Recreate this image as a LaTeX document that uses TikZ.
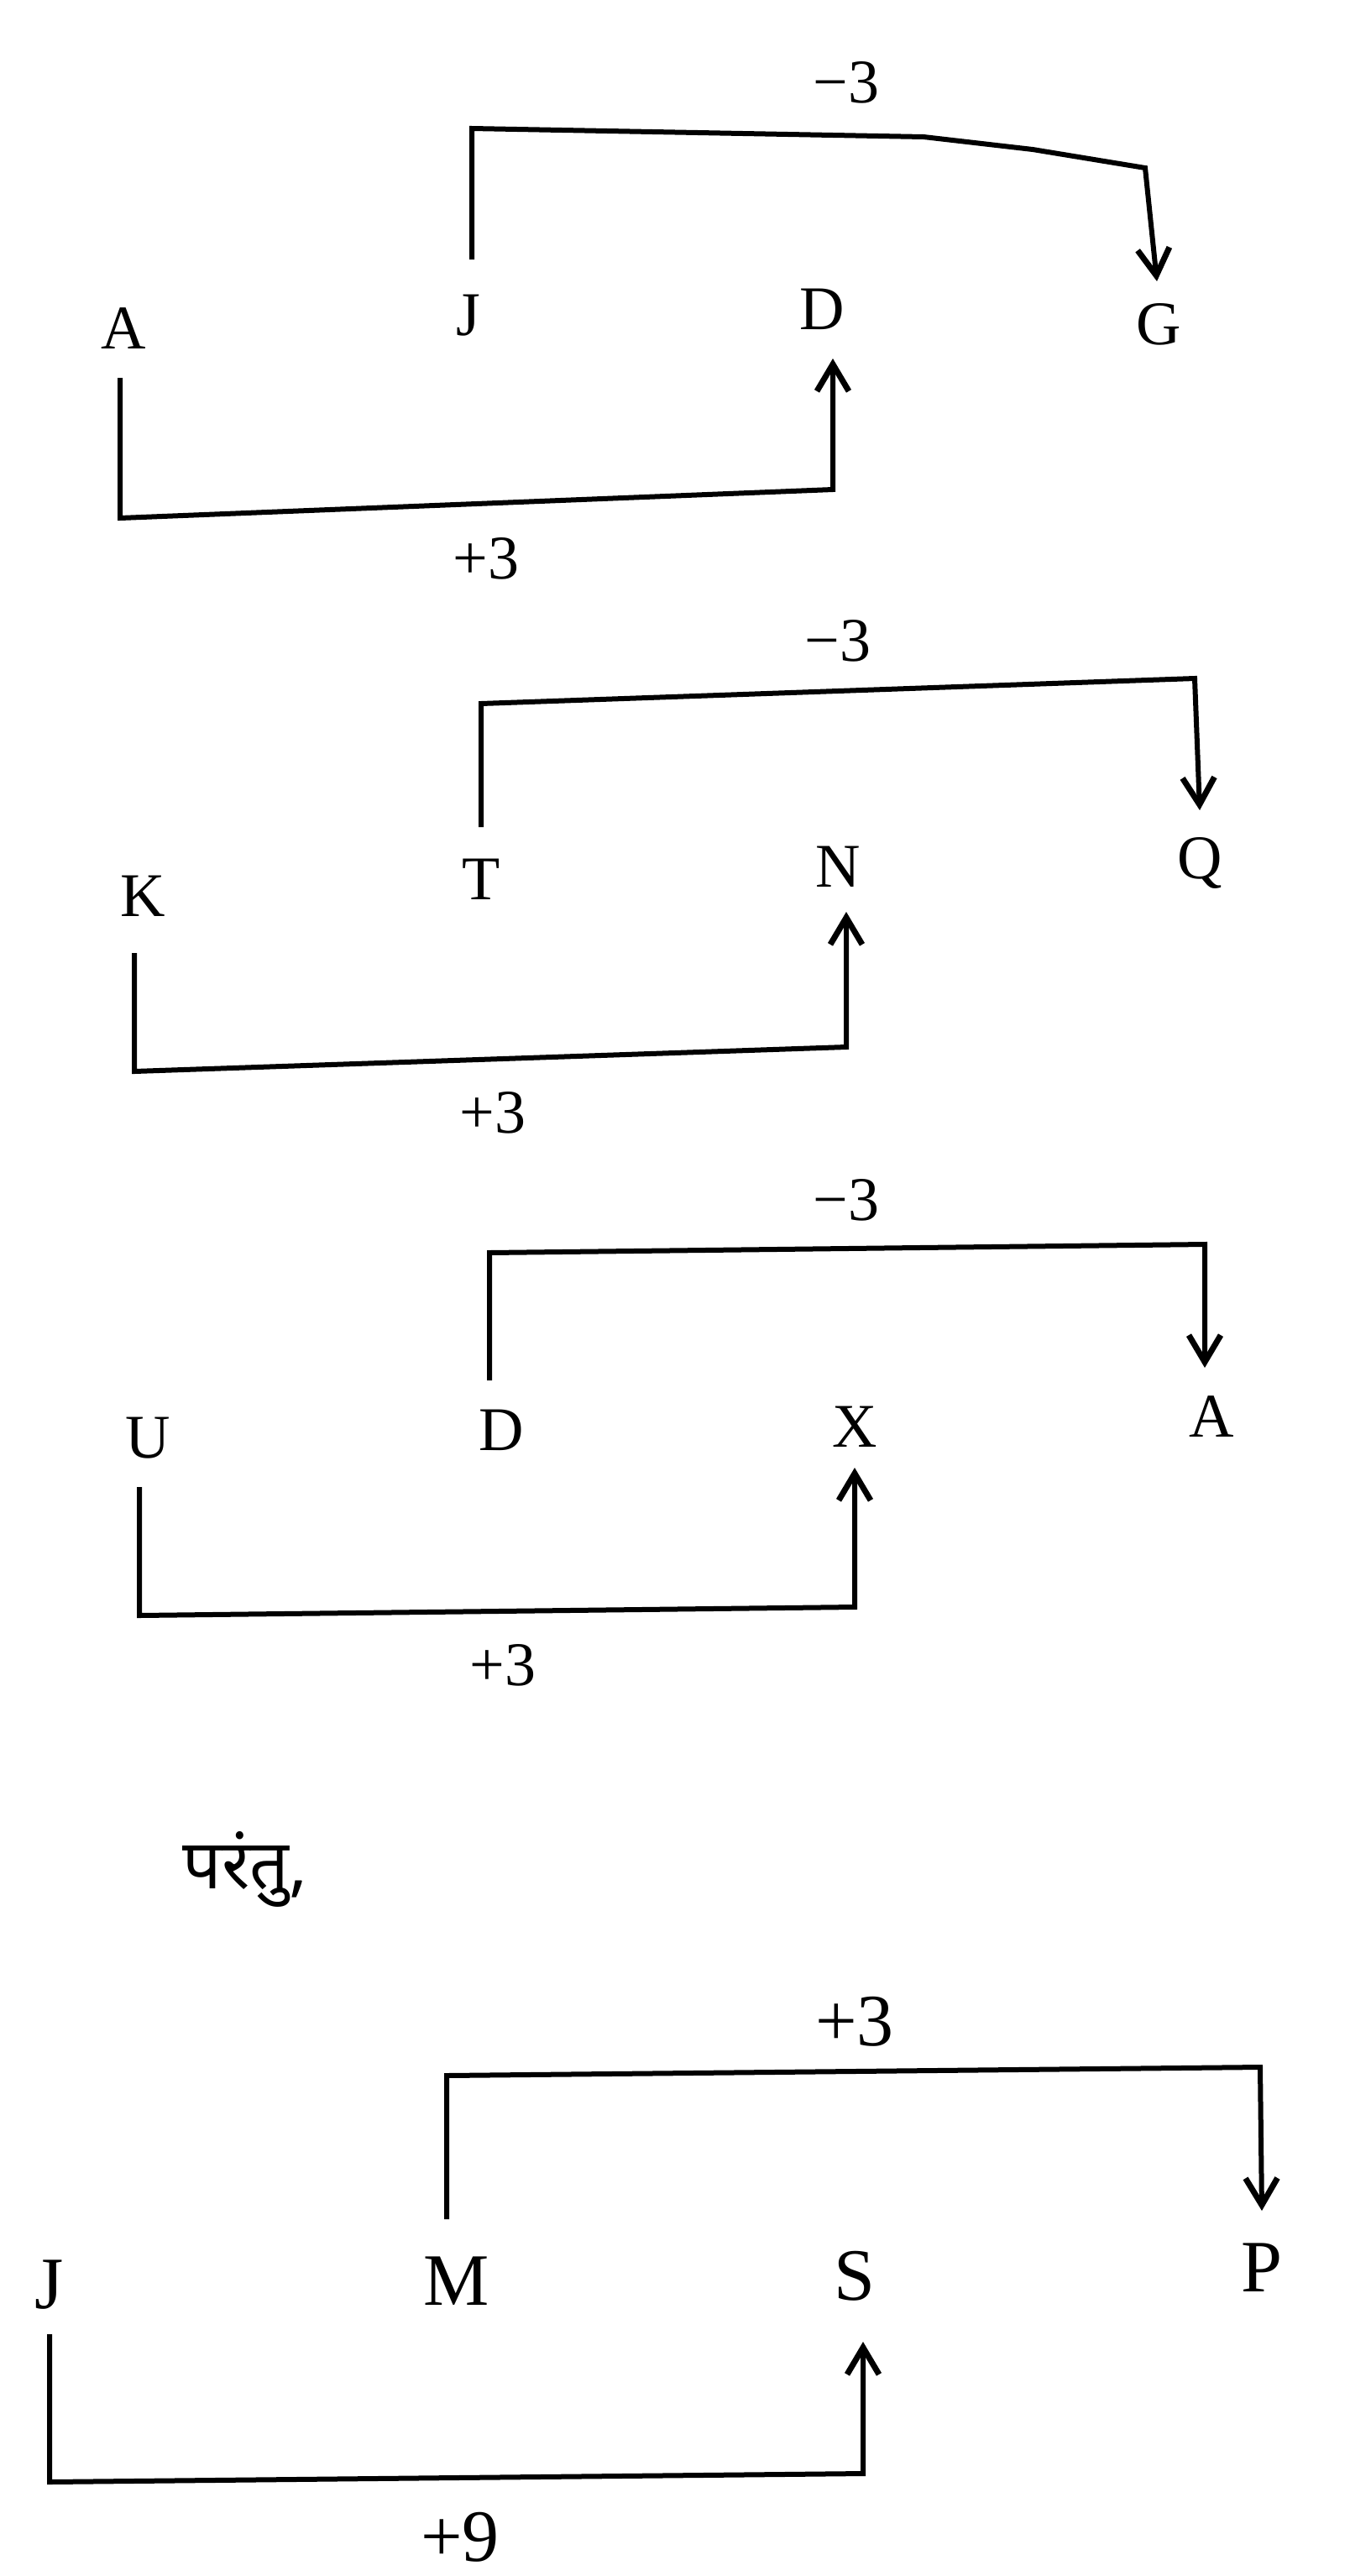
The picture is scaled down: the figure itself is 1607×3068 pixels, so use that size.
\documentclass[tikz,border=0pt]{standalone}
\usepackage{fontspec}
\setmainfont{Liberation Serif}
\newfontfamily\devfont[Script=Devanagari]{Noto Sans}
\usetikzlibrary{arrows.meta}
\tikzset{
  letter/.style={font=\fontsize{74}{80}\selectfont, inner sep=0pt},
  bigletter/.style={font=\fontsize{88}{94}\selectfont, inner sep=0pt},
  lab/.style={font=\fontsize{74}{80}\selectfont, inner sep=0pt},
  conn/.style={line width=6pt, line join=miter},
  tip/.style={-{Straight Barb[length=32pt,width=38pt,line width=7pt]}}
}
\begin{document}
\begin{tikzpicture}[x=1pt,y=-1pt]
\useasboundingbox (0,0) rectangle (1607,3068);
\fill[white] (0,0) rectangle (1607,3068);
% ---------- section 1 ----------
\node[letter] (a1) at (147,391) {A};
\node[letter] (j1) at (558,376) {J};
\node[letter] (d1) at (979,368) {D};
\node[letter] (g1) at (1380,386) {G};
\node[lab] (l1t) at (1008,98) {−3};
\node[lab] (l1b) at (579,665) {+3};
\coordinate (j1s) at (562,309);
\coordinate (j1c) at (562,153);
\coordinate (g1m) at (1100,163);
\coordinate (g1n) at (1230,178);
\coordinate (g1c) at (1364,200);
\coordinate (g1e) at (1378,335);
\draw[conn,tip] (j1s) -- (j1c) -- (g1m) -- (g1n) -- (g1c) -- (g1e);
\coordinate (a1s) at (143,450);
\coordinate (a1c) at (143,617);
\coordinate (d1c) at (992,583);
\coordinate (d1e) at (992,427);
\draw[conn,tip] (a1s) -- (a1c) -- (d1c) -- (d1e);
% ---------- section 2 ----------
\node[letter] (k2) at (170,1067) {K};
\node[letter] (t2) at (573,1047) {T};
\node[letter] (n2) at (998,1032) {N};
\node[letter] (q2) at (1429,1028) {Q};
\node[lab] (l2t) at (998,763) {−3};
\node[lab] (l2b) at (587,1325) {+3};
\coordinate (t2s) at (573,985);
\coordinate (t2c) at (573,838);
\coordinate (q2c) at (1423,808);
\coordinate (q2e) at (1429,965);
\draw[conn,tip] (t2s) -- (t2c) -- (q2c) -- (q2e);
\coordinate (k2s) at (160,1135);
\coordinate (k2c) at (160,1276);
\coordinate (n2c) at (1008,1247);
\coordinate (n2e) at (1008,1086);
\draw[conn,tip] (k2s) -- (k2c) -- (n2c) -- (n2e);
% ---------- section 3 ----------
\node[letter] (u3) at (176,1713) {U};
\node[letter] (d3) at (597,1703) {D};
\node[letter] (x3) at (1018,1699) {X};
\node[letter] (a3) at (1443,1687) {A};
\node[lab] (l3t) at (1008,1429) {−3};
\node[lab] (l3b) at (599,1983) {+3};
\coordinate (d3s) at (583,1644);
\coordinate (d3c) at (583,1492);
\coordinate (a3c) at (1435,1482);
\coordinate (a3e) at (1435,1629);
\draw[conn,tip] (d3s) -- (d3c) -- (a3c) -- (a3e);
\coordinate (u3s) at (166,1771);
\coordinate (u3c) at (166,1924);
\coordinate (x3c) at (1018,1914);
\coordinate (x3e) at (1018,1748);
\draw[conn,tip] (u3s) -- (u3c) -- (x3c) -- (x3e);
% ---------- text ----------
\node[inner sep=0pt, font=\devfont\bfseries\fontsize{82}{88}\selectfont] (parantu) at (292,2226) {परंतु,};
% ---------- section 4 ----------
\node[bigletter] (j4) at (59,2721) {J};
\node[bigletter] (m4) at (544,2717) {M};
\node[bigletter] (s4) at (1018,2711) {S};
\node[bigletter] (p4) at (1503,2701) {P};
\node[bigletter] (l4t) at (1018,2408) {+3};
\node[bigletter] (l4b) at (548,3022) {+9};
\coordinate (m4s) at (532,2643);
\coordinate (m4c) at (532,2472);
\coordinate (p4c) at (1501,2462);
\coordinate (p4e) at (1503,2633);
\draw[conn,tip] (m4s) -- (m4c) -- (p4c) -- (p4e);
\coordinate (j4s) at (59,2780);
\coordinate (j4c) at (59,2956);
\coordinate (s4c) at (1028,2946);
\coordinate (s4e) at (1028,2789);
\draw[conn,tip] (j4s) -- (j4c) -- (s4c) -- (s4e);
\end{tikzpicture}
\end{document}
